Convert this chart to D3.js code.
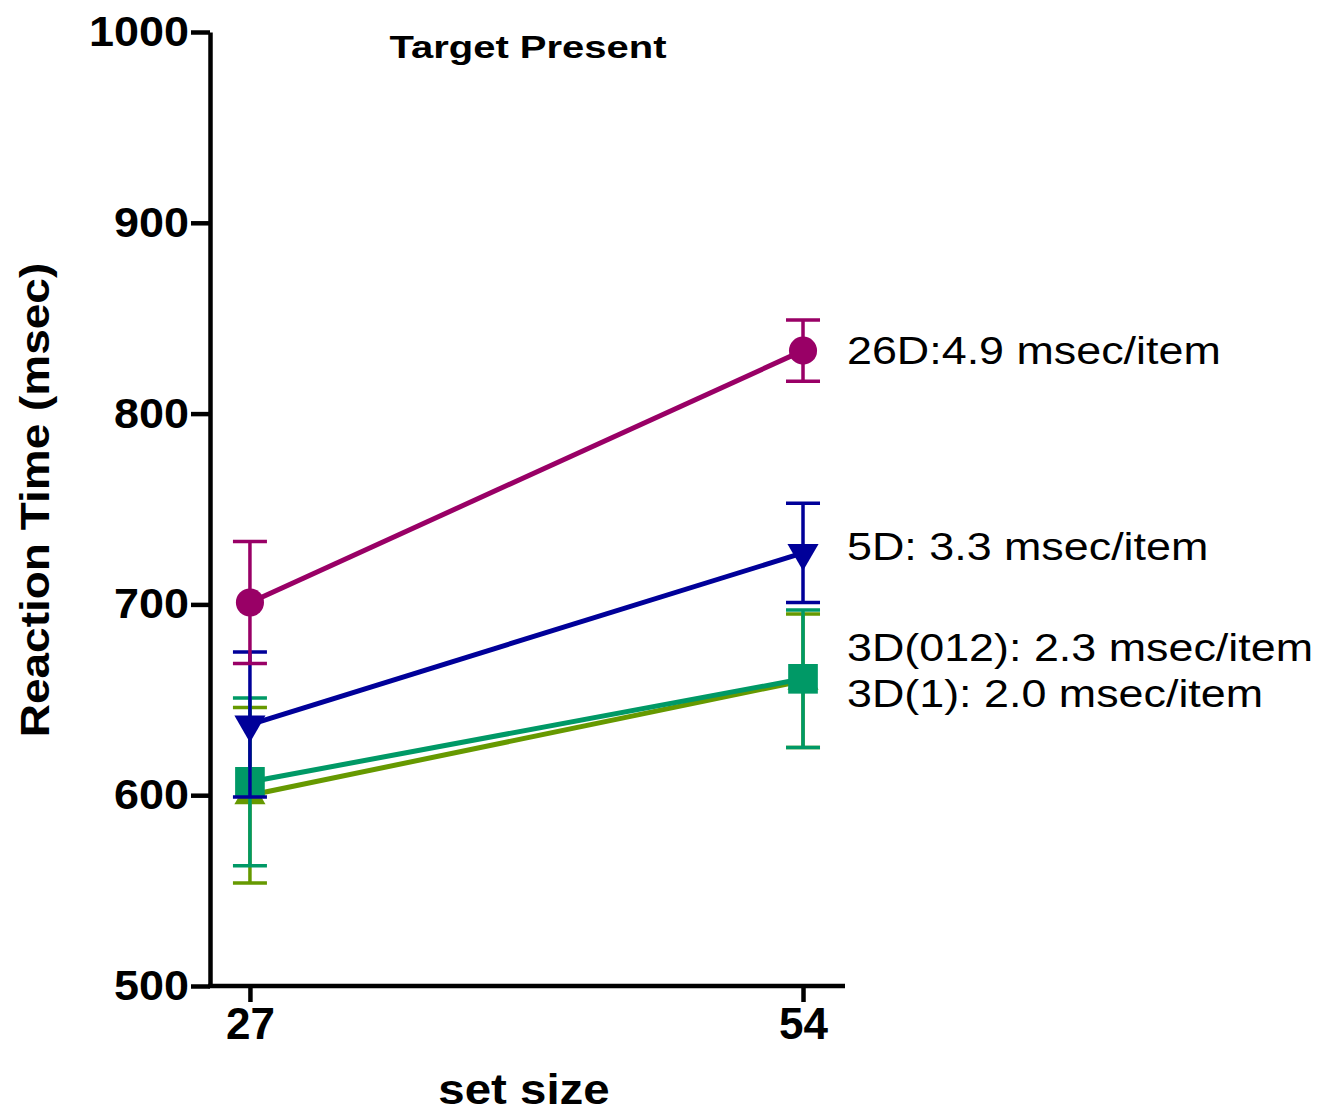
<html>
<head>
<style>
body{margin:0;background:#fff;}
svg{position:absolute;left:0;top:0;}
text{font-family:"Liberation Sans", Arial, sans-serif;}
</style>
<script src="https://d3js.org/d3.v7.min.js"></script>
</head>
<body>
<svg id="chart" width="1337" height="1115"></svg>
<script>
// data
const setSizes = [27, 54];
const seriesNames = ['3D(1)', '3D(012)', '5D', '26D'];
const seriesLabels = ['3D(1): 2.0 msec/item', '3D(012): 2.3 msec/item', '5D: 3.3 msec/item', '26D:4.9 msec/item'];
const rt3D1 = [600, 660];
const err3D1 = [46, 35];
const rt3D012 = [607, 661];
const err3D012 = [44, 36];
const rt5D = [637, 727];
const err5D = [38, 26];
const rt26D = [701, 833];
const err26D = [32, 16];
const yTicks = [500, 600, 700, 800, 900, 1000];

const colors = ['#669900', '#009966', '#000099', '#990066'];
const symbols = [d3.symbolTriangle, d3.symbolSquare, d3.symbolTriangle, d3.symbolCircle];
const symSizes = [420, 880, 420, 620];
const rotations = [0, 0, 180, 0];
const labelY = [707, 661, 560, 364];

const means = [rt3D1, rt3D012, rt5D, rt26D];
const errs = [err3D1, err3D012, err5D, err26D];

const svg = d3.select('#chart');

const x = d3.scaleLinear().domain([25.05, 56.05]).range([210, 845]);
const y = d3.scaleLinear().domain([500, 1000]).range([986, 32]);

// stretched text, the original font runs wider than Arial
function label(tx, ty, str, size, bold, sx, anchor, rot) {
  return svg.append('text')
    .attr('transform', 'translate(' + tx + ',' + ty + ') rotate(' + (rot || 0) + ') scale(' + sx + ',1)')
    .attr('text-anchor', anchor || 'start')
    .attr('font-size', size)
    .attr('font-weight', bold ? 'bold' : 'normal')
    .attr('fill', '#000')
    .text(str);
}

// y axis
const yAxis = svg.append('g')
  .attr('transform', 'translate(210,0)')
  .call(d3.axisLeft(y).tickValues(yTicks).tickFormat(d3.format('d')).tickSize(19).tickPadding(2).tickSizeOuter(0));
yAxis.select('.domain').attr('stroke', '#000').attr('stroke-width', 4.5);
yAxis.selectAll('.tick line').attr('stroke', '#000').attr('stroke-width', 4.5);
yAxis.selectAll('.tick text')
  .attr('font-size', 42).attr('font-weight', 'bold').attr('fill', '#000')
  .attr('font-family', '"Liberation Sans", Arial, sans-serif')
  .attr('x', -21 / 1.07).attr('transform', 'scale(1.07,1)');

// x axis
const xAxis = svg.append('g')
  .attr('transform', 'translate(0,986)')
  .call(d3.axisBottom(x).tickValues(setSizes).tickSize(16).tickPadding(6).tickSizeOuter(0));
xAxis.select('.domain').attr('stroke', '#000').attr('stroke-width', 4.5)
  .attr('d', 'M' + (210 - 2) + ',0H845');
xAxis.selectAll('.tick line').attr('stroke', '#000').attr('stroke-width', 4.5);
xAxis.selectAll('.tick text')
  .attr('font-size', 44).attr('font-weight', 'bold').attr('fill', '#000')
  .attr('font-family', '"Liberation Sans", Arial, sans-serif');

// axis titles
label(49, 500, 'Reaction Time (msec)', 40, true, 1.15, 'middle', -90);
label(524, 1104, 'set size', 42, true, 1.13, 'middle');
label(528, 58, 'Target Present', 32, true, 1.25, 'middle');

const line = d3.line().x((d, i) => x(setSizes[i])).y(d => y(d));

seriesNames.forEach((name, s) => {
  const g = svg.append('g').attr('class', 'series');
  const pts = setSizes.map((v, i) => ({sx: v, m: means[s][i], e: errs[s][i]}));

  // error bars
  g.selectAll('.err').data(pts).enter().append('path')
    .attr('d', d => {
      const cx = x(d.sx), top = y(d.m + d.e), bot = y(d.m - d.e);
      return 'M' + (cx - 17) + ',' + top + 'H' + (cx + 17) +
             'M' + cx + ',' + top + 'V' + bot +
             'M' + (cx - 17) + ',' + bot + 'H' + (cx + 17);
    })
    .attr('fill', 'none').attr('stroke', colors[s]).attr('stroke-width', 3.5);

  // connecting line
  g.append('path').datum(means[s]).attr('d', line)
    .attr('fill', 'none').attr('stroke', colors[s]).attr('stroke-width', 5);

  // markers
  g.selectAll('.mk').data(pts).enter().append('path')
    .attr('d', d3.symbol().type(symbols[s]).size(symSizes[s]))
    .attr('transform', d => 'translate(' + x(d.sx) + ',' + y(d.m) + ') rotate(' + rotations[s] + ')')
    .attr('fill', colors[s]);

  label(847, labelY[s], seriesLabels[s], 39, false, 1.15);
});
</script>
</body>
</html>
